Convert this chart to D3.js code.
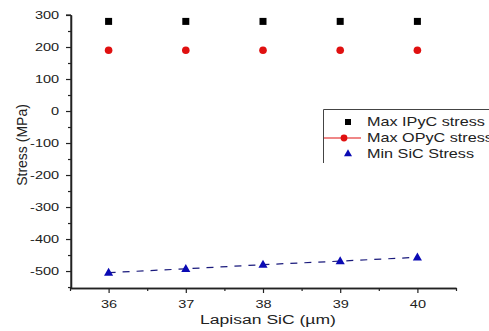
<!DOCTYPE html>
<html>
<head>
<meta charset="utf-8">
<script src="https://cdn.jsdelivr.net/npm/d3@7"></script>
<style>
  body { margin: 0; background: #fff; }
  text { font-family: "Liberation Sans", Arial, sans-serif; fill: #222; }
  .wide-r { transform-box: fill-box; transform-origin: 100% 50%; transform: scaleX(1.32); }
  .wide-c { transform-box: fill-box; transform-origin: 50% 50%; transform: scaleX(1.32); }
  .wide-t { transform-box: fill-box; transform-origin: 50% 50%; transform: scaleX(1.3); }
  .wide-l { transform-box: fill-box; transform-origin: 0% 50%; transform: scaleX(1.35); }
</style>
</head>
<body>
<svg id="chart" width="489" height="331"></svg>
<script>
const thickness = [36, 37, 38, 39, 40];
const ipycStress = [280, 280, 280, 280, 280];
const opycStress = [190, 190, 190, 190, 190];
const sicStress = [-505, -493, -480, -469, -457];
const yTicks = [300, 200, 100, 0, -100, -200, -300, -400, -500];
const seriesNames = ["Max IPyC stress", "Max OPyC stress", "Min SiC Stress"];

const svg = d3.select("#chart");
const x = d3.scaleLinear().domain([35.5, 40.5]).range([70, 456]);
const y = d3.scaleLinear().domain([-553, 300]).range([288, 15]);

// axes (hyphen minus like the original)
const fmt = d => String(d);
const xAxis = svg.append("g").attr("transform", "translate(0,288)")
    .call(d3.axisBottom(x).tickValues(thickness).tickFormat(fmt).tickSize(5).tickSizeOuter(0));
svg.append("g").attr("transform", "translate(0,288)")
    .call(d3.axisBottom(x).tickValues(d3.range(35.5, 40.6, 1)).tickFormat("").tickSize(3).tickSizeOuter(0));
const yAxis = svg.append("g").attr("transform", "translate(71,0)")
    .call(d3.axisLeft(y).tickValues(yTicks).tickFormat(fmt).tickSize(5).tickSizeOuter(0));
svg.append("g").attr("transform", "translate(71,0)")
    .call(d3.axisLeft(y).tickValues(d3.range(-550, 300, 100)).tickFormat("").tickSize(3).tickSizeOuter(0));

svg.selectAll(".domain").attr("stroke", "#222").attr("stroke-width", 1.3);
svg.selectAll(".tick line").attr("stroke", "#222").attr("stroke-width", 1.2);
xAxis.selectAll("text").attr("font-size", 11).attr("dy", "1.1em").attr("class", "wide-c");
yAxis.selectAll("text").attr("font-size", 11).attr("dx", "-0.35em").attr("class", "wide-r");
svg.append("line").attr("x1", 71).attr("x2", 71).attr("y1", 15).attr("y2", 288).attr("stroke", "#222").attr("stroke-width", 1.3);
svg.append("line").attr("x1", 66).attr("x2", 71).attr("y1", y(300)).attr("y2", y(300)).attr("stroke", "#222").attr("stroke-width", 1.2);

// titles
svg.append("text").attr("x", 268).attr("y", 324).attr("text-anchor", "middle")
    .attr("font-size", 13.5).attr("class", "wide-t").text("Lapisan SiC (µm)");
svg.append("g").attr("transform", "translate(27,145)")
  .append("text").attr("transform", "rotate(-90)").attr("text-anchor", "middle")
    .attr("font-size", 14).text("Stress (MPa)");

// series
svg.selectAll("rect.ipyc").data(thickness).enter().append("rect")
    .attr("class", "ipyc")
    .attr("x", (d, i) => x(d) - 3.5).attr("y", (d, i) => y(ipycStress[i]) - 3.5)
    .attr("width", 7).attr("height", 7).attr("fill", "#000");

svg.selectAll("circle.opyc").data(thickness).enter().append("circle")
    .attr("class", "opyc")
    .attr("cx", d => x(d)).attr("cy", (d, i) => y(opycStress[i]))
    .attr("r", 3.8).attr("fill", "#e01010");

const line = d3.line().x(d => x(d[0])).y(d => y(d[1]));
svg.append("path").datum(thickness.map((d, i) => [d, sicStress[i]]))
    .attr("d", line).attr("fill", "none").attr("stroke", "#1a1a7c")
    .attr("stroke-width", 1.2).attr("stroke-dasharray", "7,7");

const tri = d3.symbol().type(d3.symbolTriangle).size(36);
svg.selectAll("path.sic").data(thickness).enter().append("path")
    .attr("class", "sic")
    .attr("transform", (d, i) => `translate(${x(d)},${y(sicStress[i]) + 0.5})`)
    .attr("d", tri).attr("fill", "#0a0ab4");

// legend
const lg = svg.append("g");
lg.append("path").attr("d", "M489,109.5 H323.5 V163").attr("fill", "none").attr("stroke", "#444").attr("stroke-width", 1);
const rows = [122, 138, 154];
lg.append("rect").attr("x", 345).attr("y", rows[0] - 3).attr("width", 6).attr("height", 6).attr("fill", "#000");
lg.append("line").attr("x1", 324).attr("x2", 361).attr("y1", rows[1]).attr("y2", rows[1]).attr("stroke", "#e01010").attr("stroke-width", 1.2);
lg.append("circle").attr("cx", 344).attr("cy", rows[1]).attr("r", 3.4).attr("fill", "#e01010");
lg.append("path").attr("transform", `translate(348,${rows[2]})`).attr("d", d3.symbol().type(d3.symbolTriangle).size(28)).attr("fill", "#0a0ab4");
lg.selectAll("text.lg").data(seriesNames).enter().append("text")
    .attr("class", "lg wide-l").attr("x", 367).attr("y", (d, i) => rows[i] + 4.5)
    .attr("font-size", 12).text(d => d);
</script>
</body>
</html>
